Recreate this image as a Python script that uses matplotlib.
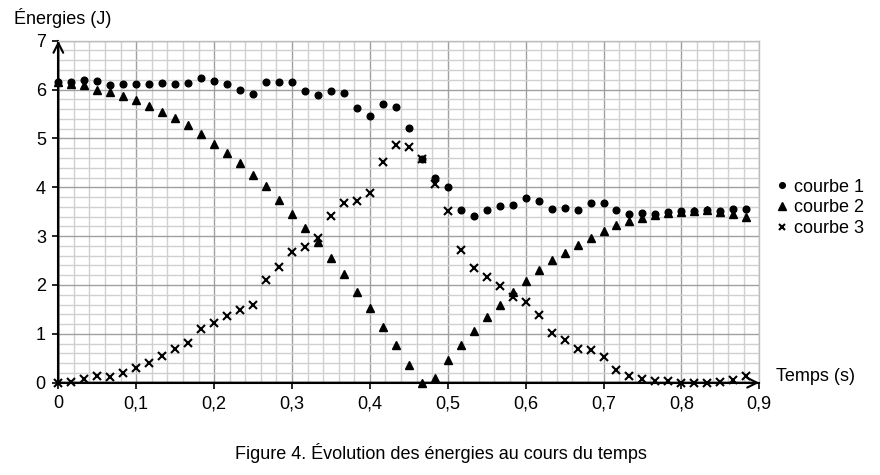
import numpy as np
import matplotlib
matplotlib.use("Agg")
import matplotlib.pyplot as plt
from matplotlib.ticker import MultipleLocator, FixedLocator

plt.rcParams['font.family'] = ['Liberation Sans', 'DejaVu Sans']

# time samples (1/60 s)
temps = [i / 60 for i in range(54)]

courbe1 = [6.15, 6.16, 6.20, 6.18, 6.09, 6.11, 6.12, 6.11, 6.13, 6.12,
           6.13, 6.24, 6.18, 6.11, 6.00, 5.90, 6.15, 6.15, 6.16, 5.97,
           5.89, 5.98, 5.92, 5.62, 5.45, 5.70, 5.65, 5.21, 4.58, 4.20,
           4.01, 3.53, 3.42, 3.53, 3.61, 3.63, 3.78, 3.72, 3.55, 3.57,
           3.53, 3.67, 3.67, 3.53, 3.46, 3.48, 3.46, 3.50, 3.51, 3.52,
           3.53, 3.52, 3.55, 3.55]

courbe2 = [6.15, 6.12, 6.09, 6.00, 5.94, 5.87, 5.78, 5.66, 5.54, 5.41,
           5.28, 5.10, 4.89, 4.70, 4.49, 4.25, 4.02, 3.73, 3.45, 3.16,
           2.89, 2.55, 2.22, 1.86, 1.53, 1.15, 0.77, 0.37, 0.00, 0.10,
           0.46, 0.78, 1.05, 1.34, 1.60, 1.85, 2.09, 2.30, 2.51, 2.66,
           2.82, 2.97, 3.11, 3.23, 3.30, 3.38, 3.43, 3.47, 3.50, 3.52,
           3.53, 3.50, 3.46, 3.39]

courbe3 = [0.00, 0.02, 0.07, 0.14, 0.11, 0.19, 0.30, 0.40, 0.55, 0.68,
           0.81, 1.10, 1.23, 1.36, 1.49, 1.59, 2.10, 2.37, 2.68, 2.78,
           2.97, 3.42, 3.67, 3.72, 3.89, 4.51, 4.86, 4.82, 4.58, 4.06,
           3.52, 2.72, 2.34, 2.17, 1.98, 1.76, 1.66, 1.39, 1.02, 0.87,
           0.69, 0.67, 0.53, 0.27, 0.13, 0.08, 0.03, 0.03, 0.00, 0.00,
           0.00, 0.02, 0.06, 0.13]

x_ticks = [0, 0.1, 0.2, 0.3, 0.4, 0.5, 0.6, 0.7, 0.8, 0.9]
x_labels = ["0", "0,1", "0,2", "0,3", "0,4", "0,5", "0,6", "0,7", "0,8", "0,9"]
y_ticks = [0, 1, 2, 3, 4, 5, 6, 7]
y_labels = ["0", "1", "2", "3", "4", "5", "6", "7"]

FS = 13

fig = plt.figure(figsize=(8.8, 4.75), dpi=100)
ax = fig.add_axes([0.0663, 0.1943, 0.7965, 0.720])

ax.set_xlim(0, 0.9)
ax.set_ylim(0, 7)

ax.xaxis.set_major_locator(FixedLocator(x_ticks))
ax.yaxis.set_major_locator(FixedLocator(y_ticks))
ax.xaxis.set_minor_locator(MultipleLocator(0.02))
ax.yaxis.set_minor_locator(MultipleLocator(0.2))
ax.set_xticklabels(x_labels, fontsize=FS)
ax.set_yticklabels(y_labels, fontsize=FS)

ax.grid(which='minor', color='#d0d0d0', linewidth=1.0, zorder=0)
ax.grid(which='major', color='#a0a0a0', linewidth=1.0, zorder=0)
ax.set_axisbelow(True)

ax.tick_params(which='minor', length=0)
ax.tick_params(which='major', length=4, width=1.2, color='black')
ax.tick_params(axis='x', pad=5)
ax.tick_params(axis='y', pad=5)

for s in ['top', 'right']:
    ax.spines[s].set_color('#bdbdbd')
    ax.spines[s].set_linewidth(1.0)
for s in ['left', 'bottom']:
    ax.spines[s].set_color('black')
    ax.spines[s].set_linewidth(1.5)

# arrows on axes
ax.annotate('', xy=(0, 1.0), xytext=(0, 0), xycoords='axes fraction',
            arrowprops=dict(arrowstyle='->,head_length=0.7,head_width=0.35',
                            color='black', lw=1.5, shrinkA=0, shrinkB=0),
            annotation_clip=False)
ax.annotate('', xy=(1.0, 0), xytext=(0, 0), xycoords='axes fraction',
            arrowprops=dict(arrowstyle='->,head_length=0.7,head_width=0.35',
                            color='black', lw=1.5, shrinkA=0, shrinkB=0),
            annotation_clip=False)

l1, = ax.plot(temps, courbe1, linestyle='none', marker='o', markersize=4.8,
              color='black', clip_on=False, zorder=3)
l2, = ax.plot(temps, courbe2, linestyle='none', marker='^', markersize=6,
              color='black', clip_on=False, zorder=3)
l3, = ax.plot(temps, courbe3, linestyle='none', marker='x', markersize=5.5,
              markeredgewidth=1.5, color='black', clip_on=False, zorder=3)

leg = fig.legend([l1, l2, l3], ['courbe 1', 'courbe 2', 'courbe 3'],
                 loc='center left', bbox_to_anchor=(0.872, 0.5625),
                 frameon=False, fontsize=FS, handlelength=0.6,
                 handletextpad=0.4, labelspacing=0.2, borderpad=0,
                 markerscale=0.85)

fig.text(0.016, 0.962, "Énergies (J)", fontsize=FS, ha='left', va='center')
fig.text(0.882, 0.208, "Temps (s)", fontsize=FS, ha='left', va='center')
fig.text(0.501, 0.047, "Figure 4. Évolution des énergies au cours du temps",
         fontsize=FS, ha='center', va='center')

fig.savefig("out.png", dpi=100)
